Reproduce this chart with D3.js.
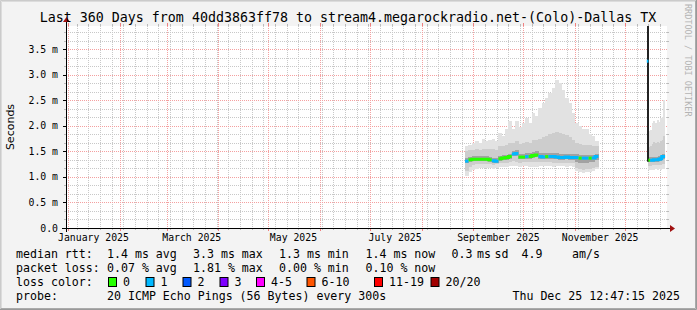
<!DOCTYPE html>
<html><head><meta charset="utf-8">
<script src="https://cdn.jsdelivr.net/npm/d3@7"></script>
<style>
body{margin:0;background:#f3f3f3}
svg{display:block}
text{font-family:"DejaVu Sans Mono",monospace;fill:#000}
</style></head><body>
<svg id="c" width="697" height="310"></svg>
<script>
// ---------- data ----------
const title = "Last 360 Days from 40dd3863ff78 to stream4.megarockradio.net-(Colo)-Dallas TX";
const startTime = "2024-12-30T12:47:15";
const endTime = "2025-12-25T12:47:15";
const yMax = 3.96; // ms
const yTickValues = [0, 0.5, 1.0, 1.5, 2.0, 2.5, 3.0, 3.5];
const yTickLabels = ["0.0", "0.5 m", "1.0 m", "1.5 m", "2.0 m", "2.5 m", "3.0 m", "3.5 m"];
const monthLabelDates = ["2025-01-16", "2025-03-16", "2025-05-16", "2025-07-16", "2025-09-16", "2025-11-16"];
const monthLabels = ["January 2025", "March 2025", "May 2025", "July 2025", "September 2025", "November 2025"];

// segment 1: 2-day columns, Aug 27 .. Nov 15
const seg1Dates = ["2025-08-27","2025-08-29","2025-08-31","2025-09-02","2025-09-04","2025-09-06","2025-09-08","2025-09-10",
  "2025-09-12","2025-09-14","2025-09-16","2025-09-18","2025-09-20","2025-09-22","2025-09-24","2025-09-26","2025-09-28",
  "2025-09-30","2025-10-02","2025-10-04","2025-10-06","2025-10-08","2025-10-10","2025-10-12","2025-10-14","2025-10-16",
  "2025-10-18","2025-10-20","2025-10-22","2025-10-24","2025-10-26","2025-10-28","2025-10-30","2025-11-01","2025-11-03",
  "2025-11-05","2025-11-07","2025-11-09","2025-11-11","2025-11-13","2025-11-15"];
const seg1Median = [1.31,1.34,1.35,1.35,1.35,1.35,1.35,1.34,1.32,1.31,1.36,1.37,1.38,1.40,1.45,1.46,1.39,1.39,1.40,1.40,
  1.42,1.43,1.40,1.39,1.40,1.40,1.40,1.39,1.38,1.38,1.39,1.38,1.38,1.38,1.37,1.37,1.37,1.37,1.37,1.40];
const seg1Loss = [1,0,0,0,0,0,0,0,1,1,0,0,0,0,1,1,0,0,1,0,0,0,1,1,0,1,1,1,1,1,1,1,1,1,0,1,1,0,1,1];
const seg1Min = [1.02,1.10,1.14,1.16,1.17,1.18,1.18,1.17,1.16,1.18,1.19,1.20,1.20,1.21,1.22,1.21,1.20,1.22,1.21,1.20,
  1.19,1.20,1.21,1.22,1.22,1.21,1.20,1.21,1.22,1.21,1.20,1.21,1.19,1.12,1.09,1.08,1.09,1.10,1.11,1.15];
const seg1P10 = [1.12,1.20,1.24,1.25,1.25,1.26,1.26,1.25,1.24,1.25,1.27,1.28,1.28,1.29,1.31,1.30,1.28,1.29,1.29,1.29,
  1.29,1.30,1.29,1.29,1.29,1.29,1.28,1.28,1.28,1.28,1.28,1.28,1.27,1.18,1.15,1.14,1.15,1.16,1.17,1.20];
const seg1P25 = [1.27,1.30,1.31,1.31,1.31,1.31,1.31,1.30,1.28,1.27,1.32,1.33,1.34,1.36,1.41,1.42,1.35,1.35,1.36,1.36,
  1.38,1.39,1.36,1.35,1.36,1.36,1.36,1.35,1.34,1.34,1.35,1.34,1.34,1.30,1.28,1.28,1.28,1.29,1.30,1.34];
const seg1P75 = [1.37,1.40,1.41,1.41,1.41,1.42,1.41,1.40,1.38,1.38,1.42,1.43,1.44,1.46,1.51,1.52,1.46,1.46,1.47,1.47,
  1.49,1.50,1.47,1.47,1.48,1.48,1.48,1.47,1.46,1.46,1.46,1.45,1.45,1.45,1.44,1.44,1.44,1.44,1.44,1.46];
const seg1P90 = [1.50,1.52,1.53,1.54,1.53,1.55,1.54,1.55,1.54,1.53,1.60,1.60,1.63,1.66,1.66,1.70,1.64,1.66,1.69,1.67,
  1.72,1.72,1.74,1.78,1.80,1.84,1.86,1.88,1.86,1.84,1.82,1.78,1.72,1.66,1.64,1.63,1.63,1.62,1.60,1.60];
const seg1Max = [1.60,1.62,1.66,1.70,1.67,1.75,1.70,1.72,1.74,1.70,1.86,1.80,1.95,2.10,1.95,2.10,1.98,2.05,2.15,2.05,
  2.25,2.20,2.35,2.45,2.55,2.65,2.75,2.90,2.85,2.70,2.55,2.45,2.25,2.05,2.00,1.95,1.95,1.85,1.80,1.70];

// segment 2: daily columns, Dec 14 .. Dec 25
const seg2Dates = ["2025-12-14","2025-12-15","2025-12-16","2025-12-17","2025-12-18","2025-12-19","2025-12-20",
  "2025-12-21","2025-12-22","2025-12-23","2025-12-24","2025-12-25"];
const seg2Median = [3.27,1.33,1.33,1.33,1.34,1.34,1.34,1.35,1.36,1.40,1.40];
const seg2Loss = [1,0,1,1,1,1,1,1,1,1,1];
const seg2Min = [1.30,1.14,1.13,1.14,1.14,1.15,1.14,1.15,1.14,1.15,1.16];
const seg2P10 = [1.32,1.22,1.22,1.23,1.23,1.24,1.23,1.24,1.24,1.25,1.26];
const seg2P25 = [1.40,1.29,1.29,1.29,1.30,1.30,1.30,1.31,1.32,1.36,1.36];
const seg2P75 = [3.60,1.39,1.39,1.40,1.40,1.40,1.40,1.41,1.42,1.46,1.46];
const seg2P90 = [3.90,1.58,1.60,1.65,1.68,1.66,1.68,1.67,1.70,1.72,1.80];
const seg2Max = [3.96,1.90,1.92,2.05,2.10,2.05,2.12,2.08,2.15,2.18,2.50];
const spikeDates = ["2025-12-14"];
const spikeLow = [1.30];
const spikeHigh = [3.96];

const lossColorLabels = ["0", "1", "2", "3", "4-5", "6-10", "11-19", "20/20"];
const lossColors = ["#26ff00", "#00b8ff", "#0059ff", "#7e00ff", "#ff00ff", "#ff5500", "#ff0000", "#a10000"];

const legendMedian = ["median rtt:", "1.4 ms avg", "3.3 ms max", "1.3 ms min", "1.4 ms now", "0.3", "ms", "sd", "4.9", "am/s"];
const legendLoss = ["packet loss:", "0.07 % avg", "1.81 % max", "0.00 % min", "0.10 % now"];
const legendProbe = ["probe:", "20 ICMP Echo Pings (56 Bytes) every 300s"];
const timestamp = "Thu Dec 25 12:47:15 2025";
const watermark = "RRDTOOL / TOBI OETIKER";

// ---------- drawing ----------
const W = 697, H = 310;
const svg = d3.select("#c");
const parse = s => new Date(s + (s.length === 10 ? "T00:00:00" : ""));
const x = d3.scaleTime().domain([parse(startTime), parse(endTime)]).range([66, 666]);
const y = d3.scaleLinear().domain([0, yMax]).range([228, 26]);

// background + 3D border
svg.append("rect").attr("width", W).attr("height", H).attr("fill", "#f3f3f3");
svg.append("path").attr("d", `M0.5,${H}V0.5H${W}`).attr("stroke", "#cbcbcb").attr("fill", "none");
svg.append("path").attr("d", `M1.5,${H-1}V1.5H${W-1}`).attr("stroke", "#dcdcdc").attr("fill", "none");
svg.append("path").attr("d", `M0,${H-0.5}H${W-0.5}V0`).attr("stroke", "#999").attr("fill", "none");
svg.append("path").attr("d", `M1,${H-1.5}H${W-1.5}V1`).attr("stroke", "#aaa").attr("fill", "none");

// canvas
svg.append("rect").attr("x", 66).attr("y", 26).attr("width", 601).attr("height", 202).attr("fill", "#fff");

const g = svg.append("g");
const [y0, y1] = [228, 26];
const x0 = 66, x1 = 666;

// horizontal minor grid (thirds of 0.5 ms)
const hMinor = d3.range(0, yMax, 0.5 / 3).filter(v => Math.abs((v / 0.5) - Math.round(v / 0.5)) > 0.01);
hMinor.forEach(v => {
  const yy = Math.round(y(v)) + 0.5;
  g.append("line").attr("x1", x0).attr("x2", x1 + 1).attr("y1", yy).attr("y2", yy)
    .attr("stroke", "#c8c8c8").attr("stroke-dasharray", "1,1");
  g.append("line").attr("x1", x0 - 2).attr("x2", x0).attr("y1", yy).attr("y2", yy).attr("stroke", "#bbb");
  g.append("line").attr("x1", x1 + 1).attr("x2", x1 + 3).attr("y1", yy).attr("y2", yy).attr("stroke", "#bbb");
});
// vertical minor grid (weekly)
const vMinor = d3.timeMonday.range(x.domain()[0], x.domain()[1]);
vMinor.forEach(d => {
  const xx = Math.round(x(d)) + 0.5;
  g.append("line").attr("x1", xx).attr("x2", xx).attr("y1", y1).attr("y2", y0)
    .attr("stroke", "#c8c8c8").attr("stroke-dasharray", "1,1");
  g.append("line").attr("x1", xx).attr("x2", xx).attr("y1", y0).attr("y2", y0 + 2).attr("stroke", "#bbb");
  g.append("line").attr("x1", xx).attr("x2", xx).attr("y1", y1 - 2).attr("y2", y1).attr("stroke", "#bbb");
});
// major grid
yTickValues.slice(1).forEach(v => {
  const yy = Math.round(y(v)) + 0.5;
  g.append("line").attr("x1", x0).attr("x2", x1 + 1).attr("y1", yy).attr("y2", yy)
    .attr("stroke", "#f4a0a0").attr("stroke-dasharray", "1,1");
});
const vMajor = d3.timeMonth.range(x.domain()[0], x.domain()[1]);
vMajor.forEach(d => {
  const xx = Math.round(x(d)) + 0.5;
  g.append("line").attr("x1", xx).attr("x2", xx).attr("y1", y1).attr("y2", y0)
    .attr("stroke", "#f4a0a0").attr("stroke-dasharray", "1,1");
  g.append("line").attr("x1", xx).attr("x2", xx).attr("y1", y0).attr("y2", y0 + 3).attr("stroke", "#f08080");
  g.append("line").attr("x1", xx).attr("x2", xx).attr("y1", y1 - 3).attr("y2", y1).attr("stroke", "#f08080");
});

// smoke + median
function drawSegment(dates, med, loss, mn, p10, p25, p75, p90, mx) {
  const n = med.length;
  const cols = d3.range(n).map(i => ({
    xa: x(parse(dates[i])), xb: x(parse(dates[i + 1])),
    med: med[i], loss: loss[i], mn: mn[i], p10: p10[i], p25: p25[i], p75: p75[i], p90: p90[i], mx: mx[i]
  }));
  const bands = [["mn", "mx", "#e2e2e2"], ["p10", "p90", "#cdcdcd"], ["p25", "p75", "#a2a2a2"]];
  bands.forEach(([a, b, c]) => {
    g.append("g").selectAll("rect").data(cols).join("rect")
      .attr("x", d => d.xa).attr("width", d => d.xb - d.xa + 0.3)
      .attr("y", d => y(Math.min(d[b], yMax))).attr("height", d => y(d[a]) - y(Math.min(d[b], yMax)))
      .attr("fill", c).attr("shape-rendering", "crispEdges");
  });
  return cols;
}
function drawMedian(cols) {
  lossColors.forEach((color, ci) => {
    const parts = [];
    let cur = [];
    cols.forEach((d, i) => {
      if (d.loss === ci) {
        cur.push([d.xa, y(d.med)], [d.xb, y(d.med)]);
      } else if (cur.length) { parts.push(cur); cur = []; }
    });
    if (cur.length) parts.push(cur);
    parts.forEach(p => {
      g.append("path").attr("d", d3.line()(p)).attr("fill", "none").attr("stroke", color)
        .attr("stroke-width", 3).attr("stroke-linecap", "butt");
    });
  });
}
const c1 = drawSegment(seg1Dates, seg1Median, seg1Loss, seg1Min, seg1P10, seg1P25, seg1P75, seg1P90, seg1Max);
const c2 = drawSegment(seg2Dates, seg2Median, seg2Loss, seg2Min, seg2P10, seg2P25, seg2P75, seg2P90, seg2Max);
// dark spike
spikeDates.forEach((d, i) => {
  const xa = x(parse(d));
  g.append("rect").attr("x", Math.round(xa)).attr("width", 2)
    .attr("y", y(spikeHigh[i])).attr("height", y(spikeLow[i]) - y(spikeHigh[i])).attr("fill", "#222");
});
drawMedian(c1);
drawMedian(c2);

// axes
const arrowC = "#a01010";
g.append("line").attr("x1", x0 - 4).attr("x2", x1 + 4).attr("y1", y0 + 0.5).attr("y2", y0 + 0.5).attr("stroke", "#000");
g.append("line").attr("x1", x0 + 0.5).attr("x2", x0 + 0.5).attr("y1", y0 + 4).attr("y2", y1 - 4).attr("stroke", "#000");
g.append("path").attr("d", `M${x1 + 4},${y0 - 3}L${x1 + 9},${y0 + 0.5}L${x1 + 4},${y0 + 4}Z`).attr("fill", arrowC);
g.append("path").attr("d", `M${x0 - 3},${y1 - 4}L${x0 + 0.5},${y1 - 9}L${x0 + 4},${y1 - 4}Z`).attr("fill", arrowC);
// y major ticks
yTickValues.forEach(v => {
  const yy = Math.round(y(v)) + 0.5;
  g.append("line").attr("x1", x0 - 3).attr("x2", x0).attr("y1", yy).attr("y2", yy).attr("stroke", "#000");
});

// y labels
yTickValues.forEach((v, i) => {
  svg.append("text").attr("x", 58).attr("y", y(v) + 3.5).attr("text-anchor", "end")
    .attr("font-size", "9.8px").text(yTickLabels[i]);
});
// x labels
monthLabelDates.forEach((d, i) => {
  svg.append("text").attr("x", x(parse(d))).attr("y", 241).attr("text-anchor", "middle")
    .attr("font-size", "9.8px").text(monthLabels[i]);
});
// title
svg.append("text").attr("x", 348).attr("y", 22).attr("text-anchor", "middle")
  .attr("font-size", "13.3px").text(title);
// y axis title
svg.append("text").attr("transform", "translate(14,127) rotate(-90)").attr("text-anchor", "middle")
  .style("font-family", "'DejaVu Sans',sans-serif").attr("font-size", "11px").text("Seconds");
// watermark
svg.append("text").attr("transform", "translate(685,4) rotate(90)").attr("text-anchor", "start")
  .attr("font-size", "8.5px").style("fill", "#b4b4b4").text(watermark);

// legend
const lf = "11.6px";
const row1X = [16, 107, 193, 279, 365.5, 451.5, 477, 494.5, 521.5, 572];
legendMedian.forEach((t, i) => svg.append("text").attr("x", row1X[i]).attr("y", 258).attr("font-size", lf).text(t));
const row2X = [16, 107, 193, 279, 365.5];
legendLoss.forEach((t, i) => svg.append("text").attr("x", row2X[i]).attr("y", 272).attr("font-size", lf).text(t));
svg.append("text").attr("x", 16).attr("y", 286).attr("font-size", lf).text("loss color:");
const boxX = [108, 145.5, 182.5, 219.5, 256, 306.5, 374, 430.5];
lossColorLabels.forEach((t, i) => {
  svg.append("rect").attr("x", boxX[i] + 0.5).attr("y", 277.5).attr("width", 8).attr("height", 9)
    .attr("fill", lossColors[i]).attr("stroke", "#000");
  svg.append("text").attr("x", boxX[i] + 15).attr("y", 286).attr("font-size", lf).text(t);
});
svg.append("text").attr("x", 16).attr("y", 300).attr("font-size", lf).text(legendProbe[0]);
svg.append("text").attr("x", 107).attr("y", 300).attr("font-size", lf).text(legendProbe[1]);
svg.append("text").attr("x", 680).attr("y", 300).attr("text-anchor", "end").attr("font-size", lf).text(timestamp);
</script>
</body></html>
